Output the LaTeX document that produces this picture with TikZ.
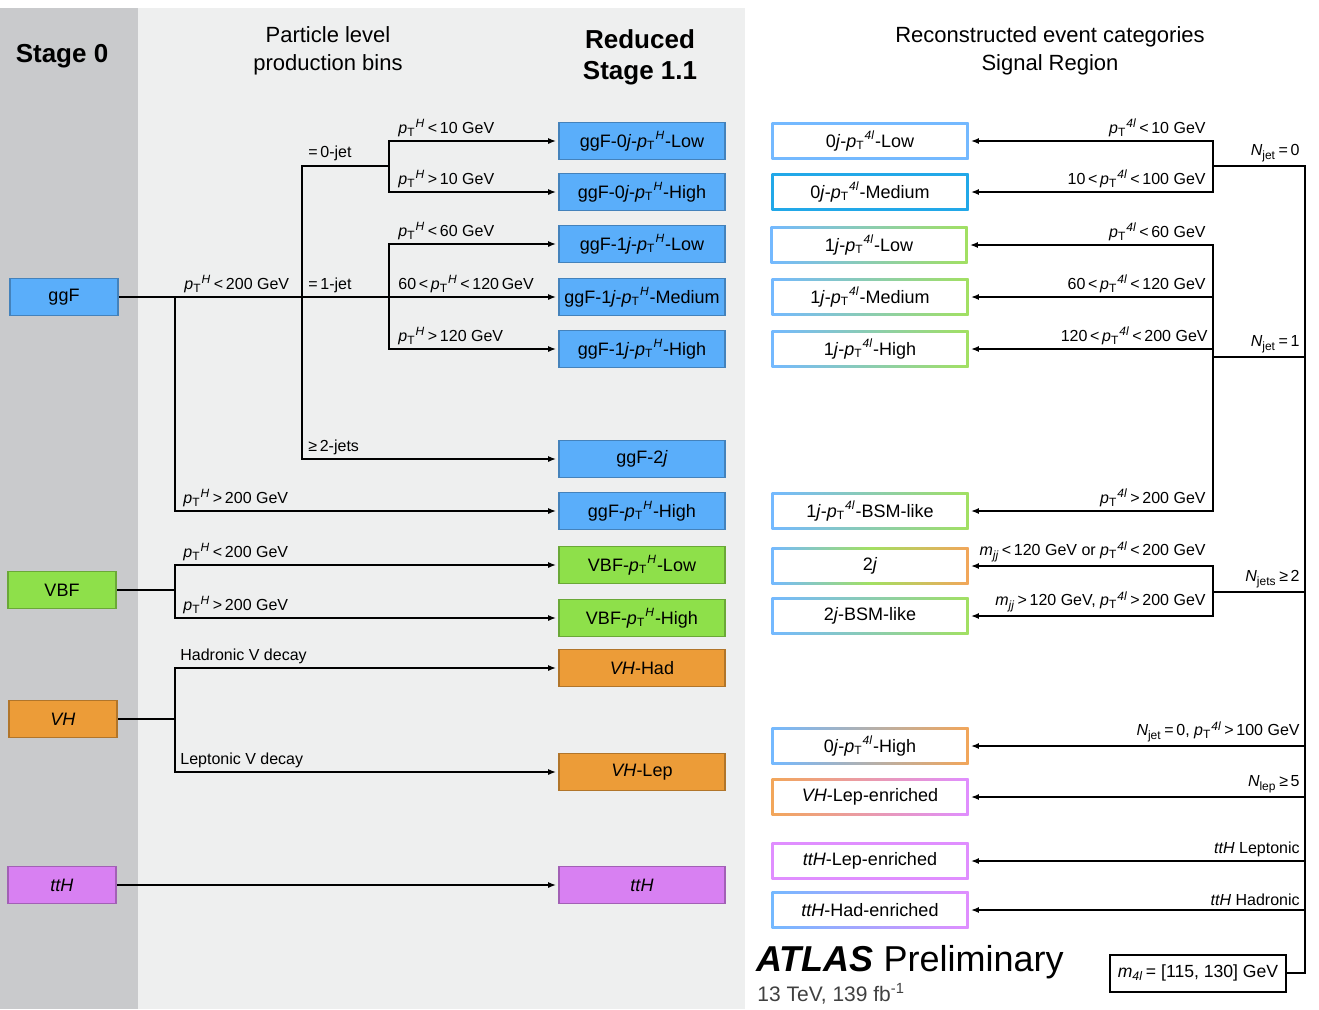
\documentclass[tikz,border=0pt]{standalone}
\usepackage{fontspec}
\usepackage{amsmath}
\setmainfont{Liberation Sans}
\usetikzlibrary{arrows.meta,calc}

\definecolor{stagegray}{HTML}{C9CACC}
\definecolor{panelgray}{HTML}{EEEFEF}
\definecolor{ggfblue}{HTML}{5AAEFA}
\definecolor{vbfgreen}{HTML}{8EE04A}
\definecolor{vhorange}{HTML}{EC9C38}
\definecolor{tthviolet}{HTML}{D880F2}
\definecolor{catblue}{HTML}{74B9FF}
\definecolor{catcyan}{HTML}{22A8E8}
\definecolor{catgreen}{HTML}{A2E062}
\definecolor{catorange}{HTML}{F2A65A}
\definecolor{catviolet}{HTML}{E08EFF}

\newcommand{\ptx}[1]{\textit{p}$_{\text{T}}{}^{\textit{#1}}$}
\newcommand{\njet}[1]{\textit{N}$_{\text{#1}}$}

\tikzset{
  head/.style={inner sep=0pt, font=\fontsize{11}{14}\selectfont},
  stage/.style={draw=#1!75!black, fill=#1, line width=0.8pt, minimum width=54pt,
    minimum height=18.5pt, inner sep=0pt, font=\fontsize{9}{11}\selectfont},
  bin/.style={stage=#1, minimum width=83pt},
  catbox/.style n args={3}{fill=white, minimum width=98.5pt, minimum height=18.5pt,
    inner sep=0pt, font=\fontsize{9}{11}\selectfont,
    path picture={
      \shade[left color=#1, right color=#3, middle color=#2]
        (path picture bounding box.south west) rectangle (path picture bounding box.north east);
      \fill[white] ([shift={(1.1pt,1.1pt)}]path picture bounding box.south west)
        rectangle ([shift={(-1.1pt,-1.1pt)}]path picture bounding box.north east);
    }},
  cutl/.style={anchor=south west, inner sep=1pt, font=\fontsize{8}{10}\selectfont},
  cutr/.style={anchor=south east, inner sep=1pt, font=\fontsize{8}{10}\selectfont},
  tree/.style={line width=0.9pt},
  flow/.style={line width=0.9pt, -{Latex[length=4pt,width=3pt]}, shorten >=1pt},
}

\begin{document}
\begin{tikzpicture}[x=0.5pt,y=-0.5pt]
	%%%%% START %%%%%
	\useasboundingbox (0,0) rectangle (1319,1009);
	\fill[stagegray] (0,8) rectangle (138,1009);
	\fill[panelgray] (138,8) rectangle (745,1009);
	
	\node[head, font=\bfseries\fontsize{13}{15}\selectfont] (hstage) at (62,56) {Stage 0};
	\node[head, align=center] (hbins) at (328,51) {Particle level\\production bins};
	\node[head, align=center, font=\bfseries\fontsize{13}{15.5}\selectfont] (hred) at (640,57) {Reduced\\Stage 1.1};
	\node[head, align=center] (hreco) at (1050,51) {Reconstructed event categories\\Signal Region};
	
	% stage 0
	\node[stage=ggfblue] (ggF) at (64,297) {ggF};
	\node[stage=vbfgreen] (VBF) at (62,590) {VBF};
	\node[stage=vhorange] (VH) at (63,719) {\textit{VH}};
	\node[stage=tthviolet] (ttH) at (62,885) {\textit{ttH}};
	
	% reduced stage 1.1
	\node[bin=ggfblue] (b0jlow) at (642,141) {ggF-0\textit{j}-\ptx{H}-Low};
	\node[bin=ggfblue] (b0jhigh) at (642,192) {ggF-0\textit{j}-\ptx{H}-High};
	\node[bin=ggfblue] (b1jlow) at (642,244) {ggF-1\textit{j}-\ptx{H}-Low};
	\node[bin=ggfblue] (b1jmed) at (642,297) {ggF-1\textit{j}-\ptx{H}-Medium};
	\node[bin=ggfblue] (b1jhigh) at (642,349) {ggF-1\textit{j}-\ptx{H}-High};
	\node[bin=ggfblue] (b2j) at (642,459) {ggF-2\textit{j}};
	\node[bin=ggfblue] (bhigh) at (642,511) {ggF-\ptx{H}-High};
	\node[bin=vbfgreen] (bvbflow) at (642,565) {VBF-\ptx{H}-Low};
	\node[bin=vbfgreen] (bvbfhigh) at (642,618) {VBF-\ptx{H}-High};
	\node[bin=vhorange] (bvhhad) at (642,668) {\textit{VH}-Had};
	\node[bin=vhorange] (bvhlep) at (642,772) {\textit{VH}-Lep};
	\node[bin=tthviolet] (btth) at (642,885) {\textit{ttH}};
	
	% ggF tree
	\coordinate (ptsplit) at (175,297);
	\coordinate (jetsplit) at (302,297);
	\coordinate (onejet) at (389,297);
	\coordinate (zerojet) at (302,166);
	\coordinate (zerosplit) at (389,166);
	\draw[flow] (ggF.east) -- (b1jmed.west);
	\draw[flow] (ptsplit) |- (bhigh.west);
	\draw[tree] (jetsplit) -- (zerojet) -- (zerosplit);
	\draw[flow] (zerosplit) |- (b0jlow.west);
	\draw[flow] (zerosplit) |- (b0jhigh.west);
	\draw[flow] (onejet) |- (b1jlow.west);
	\draw[flow] (onejet) |- (b1jhigh.west);
	\draw[flow] (jetsplit) |- (b2j.west);
	
	\node[cutl] (lpt200) at (182,295) {\ptx{H}\,<\,200 GeV};
	\node[cutl] (l1jet) at (306,295) {=\,1-jet};
	\node[cutl] (l0jet) at (306,163) {=\,0-jet};
	\node[cutl] (lpt10a) at (396,139) {\ptx{H}\,<\,10 GeV};
	\node[cutl] (lpt10b) at (396,190) {\ptx{H}\,>\,10 GeV};
	\node[cutl] (lpt60) at (396,242) {\ptx{H}\,<\,60 GeV};
	\node[cutl] (lpt60120) at (396,295) {60\,<\,\ptx{H}\,<\,120\,GeV};
	\node[cutl] (lpt120) at (396,347) {\ptx{H}\,>\,120 GeV};
	\node[cutl] (l2jet) at (306,457) {≥\,2-jets};
	\node[cutl] (lpthigh) at (181,509) {\ptx{H}\,>\,200 GeV};
	
	% VBF, VH, ttH
	\coordinate (vbfsplit) at (175,590);
	\coordinate (vhsplit) at (175,719);
	\draw[tree] (VBF.east) -- (vbfsplit);
	\draw[flow] (vbfsplit) |- (bvbflow.west);
	\draw[flow] (vbfsplit) |- (bvbfhigh.west);
	\draw[tree] (VH.east) -- (vhsplit);
	\draw[flow] (vhsplit) |- (bvhhad.west);
	\draw[flow] (vhsplit) |- (bvhlep.west);
	\draw[flow] (ttH.east) -- (btth.west);
	
	\node[cutl] (lvbflow) at (181,563) {\ptx{H}\,<\,200 GeV};
	\node[cutl] (lvbfhigh) at (181,616) {\ptx{H}\,>\,200 GeV};
	\node[cutl] (lhad) at (178,666) {Hadronic V decay};
	\node[cutl] (llep) at (178,770) {Leptonic V decay};
	
	% reconstructed categories
	\node[catbox={catblue}{catblue}{catblue}] (c0jlow) at (870,141) {0\textit{j}-\ptx{4l}-Low};
	\node[catbox={catcyan}{catcyan}{catcyan}] (c0jmed) at (870,192) {0\textit{j}-\ptx{4l}-Medium};
	\node[catbox={catblue}{catblue!50!catgreen}{catgreen}] (c1jlow) at (869,245) {1\textit{j}-\ptx{4l}-Low};
	\node[catbox={catblue}{catblue!50!catgreen}{catgreen}] (c1jmed) at (870,297) {1\textit{j}-\ptx{4l}-Medium};
	\node[catbox={catblue}{catblue!50!catgreen}{catgreen}] (c1jhigh) at (870,349) {1\textit{j}-\ptx{4l}-High};
	\node[catbox={catblue}{catblue!50!catgreen}{catgreen}] (c1jbsm) at (870,511) {1\textit{j}-\ptx{4l}-BSM-like};
	\node[catbox={catblue}{catgreen}{catorange}] (c2j) at (870,566) {2\textit{j}};
	\node[catbox={catblue}{catblue!50!catgreen}{catgreen}] (c2jbsm) at (870,616) {2\textit{j}-BSM-like};
	\node[catbox={catblue}{catblue!50!catorange}{catorange}] (c0jhigh) at (870,746) {0\textit{j}-\ptx{4l}-High};
	\node[catbox={catorange}{catorange!50!catviolet}{catviolet}] (cvhlep) at (870,797) {\textit{VH}-Lep-enriched};
	\node[catbox={catviolet}{catviolet}{catviolet}] (ctthlep) at (870,861) {\textit{ttH}-Lep-enriched};
	\node[catbox={catblue}{catblue!50!catviolet}{catviolet}] (ctthhad) at (870,910) {\textit{ttH}-Had-enriched};
	
	\node[draw, line width=1pt, minimum width=88pt, minimum height=18.5pt, inner sep=0pt,
	  font=\fontsize{8.8}{11}\selectfont] (mass) at (1198,973) {\textit{m}$_{\textit{4l}}$\,= [115, 130] GeV};
	
	% reco tree
	\coordinate (bustop) at (1305,166);
	\coordinate (busbot) at (1305,973);
	\coordinate (nj0) at (1213,166);
	\coordinate (nj1) at (1213,357);
	\coordinate (nj2) at (1213,592);
	\draw[tree] (mass.east) -- (busbot) -- (bustop) -- (nj0);
	\draw[tree] (nj1 -| bustop) -- (nj1);
	\draw[tree] (nj2 -| bustop) -- (nj2);
	\draw[flow] (nj0) |- (c0jlow.east);
	\draw[flow] (nj0) |- (c0jmed.east);
	\draw[flow] (nj1) |- (c1jlow.east);
	\draw[flow] (nj1) |- (c1jmed.east);
	\draw[flow] (nj1) |- (c1jhigh.east);
	\draw[flow] (nj1) |- (c1jbsm.east);
	\draw[flow] (nj2) |- (c2j.east);
	\draw[flow] (nj2) |- (c2jbsm.east);
	\draw[flow] (c0jhigh.east -| bustop) -- (c0jhigh.east);
	\draw[flow] (cvhlep.east -| bustop) -- (cvhlep.east);
	\draw[flow] (ctthlep.east -| bustop) -- (ctthlep.east);
	\draw[flow] (ctthhad.east -| bustop) -- (ctthhad.east);
	
	\node[cutr] (rpt10) at (1208,139) {\ptx{4l}\,<\,10 GeV};
	\node[cutr] (rpt100) at (1208,190) {10\,<\,\ptx{4l}\,<\,100 GeV};
	\node[cutr] (rpt60) at (1208,243) {\ptx{4l}\,<\,60 GeV};
	\node[cutr] (rpt120) at (1208,295) {60\,<\,\ptx{4l}\,<\,120 GeV};
	\node[cutr] (rpt200) at (1210,347) {120\,<\,\ptx{4l}\,<\,200 GeV};
	\node[cutr] (rptbsm) at (1208,509) {\ptx{4l}\,>\,200 GeV};
	\node[cutr] (rmjjlow) at (1208,564) {\textit{m}$_{\textit{jj}}$\,<\,120 GeV or \ptx{4l}\,<\,200 GeV};
	\node[cutr] (rmjjhigh) at (1208,614) {\textit{m}$_{\textit{jj}}$\,>\,120 GeV, \ptx{4l}\,>\,200 GeV};
	\node[cutr] (rnj0) at (1302,164) {\njet{jet}\,=\,0};
	\node[cutr] (rnj1) at (1302,355) {\njet{jet}\,=\,1};
	\node[cutr] (rnj2) at (1302,590) {\njet{jets}\,≥\,2};
	\node[cutr] (rnj0high) at (1302,744) {\njet{jet}\,=\,0, \ptx{4l}\,>\,100 GeV};
	\node[cutr] (rnlep) at (1302,795) {\njet{lep}\,≥\,5};
	\node[cutr] (rtthlep) at (1302,859) {\textit{ttH} Leptonic};
	\node[cutr] (rtthhad) at (1302,908) {\textit{ttH} Hadronic};
	
	\node[anchor=west, inner sep=0pt, font=\fontsize{18}{20}\selectfont] (atlas) at (756,962) {\textbf{\textit{ATLAS}} Preliminary};
	\node[anchor=west, inner sep=0pt, text=black!75, font=\fontsize{10.5}{12}\selectfont] (lumi) at (757,994) {13 TeV, 139 fb\textsuperscript{-1}};
	%%%%% END %%%%%
\end{tikzpicture}
\end{document}
